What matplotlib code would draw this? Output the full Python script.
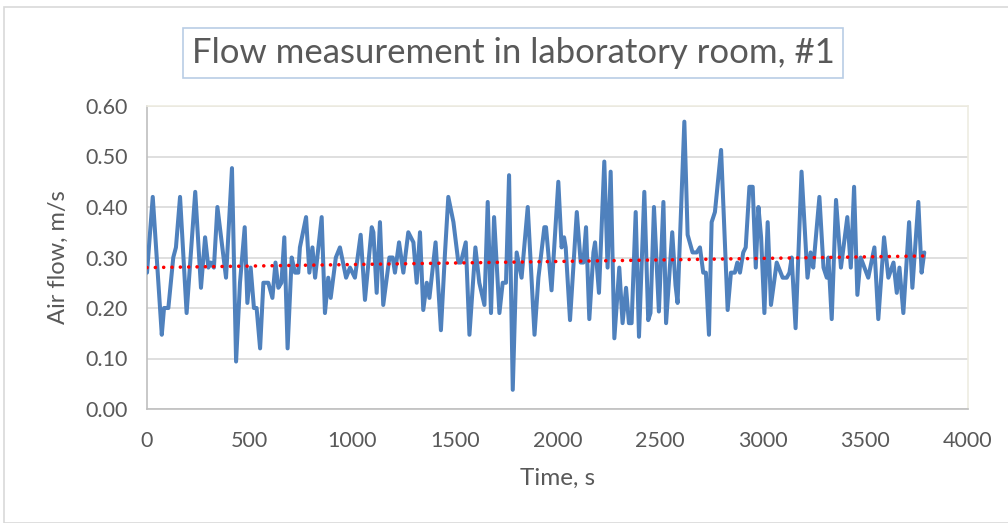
import matplotlib
matplotlib.use("Agg")
import matplotlib.pyplot as plt
from matplotlib.patches import Rectangle
import numpy as np

# ---- data ----
time_s = [0, 28, 72, 83, 104, 128, 141, 161, 193, 235, 263, 283, 299, 310, 326, 343, 385, 414, 434, 453,
          476, 489, 505, 521, 534, 551, 567, 591, 611, 626, 640, 655, 669, 685, 705, 721, 737, 745, 775, 791,
          806, 819, 851, 867, 883, 895, 920, 940, 970, 989, 1013, 1041, 1062, 1095, 1103, 1119, 1135, 1151, 1181, 1197,
          1208, 1228, 1249, 1273, 1298, 1314, 1330, 1346, 1363, 1376, 1406, 1432, 1452, 1468, 1493, 1517, 1529, 1553,
          1571, 1600, 1619, 1644, 1660, 1676, 1691, 1717, 1733, 1749, 1764, 1782, 1801, 1825, 1855, 1888, 1907, 1936,
          1944, 1971, 2004, 2020, 2032, 2040, 2061, 2094, 2113, 2126, 2139, 2155, 2175, 2183, 2202, 2228, 2244, 2259,
          2277, 2301, 2317, 2334, 2348, 2361, 2381, 2397, 2423, 2442, 2453, 2470, 2494, 2516, 2529, 2559, 2575, 2585,
          2618, 2634, 2658, 2678, 2694, 2710, 2723, 2738, 2751, 2767, 2797, 2829, 2845, 2864, 2876, 2889, 2905, 2917,
          2935, 2951, 2966, 2979, 2992, 3008, 3024, 3040, 3068, 3097, 3117, 3130, 3141, 3160, 3189, 3218, 3233, 3246,
          3276, 3296, 3312, 3320, 3336, 3357, 3381, 3412, 3429, 3445, 3461, 3477, 3514, 3544, 3563, 3591, 3612, 3637,
          3653, 3666, 3685, 3713, 3729, 3758, 3774, 3787]
air_flow = [0.27, 0.42, 0.147, 0.20, 0.20, 0.30, 0.32, 0.42, 0.19, 0.43, 0.24, 0.34, 0.28, 0.29, 0.28, 0.40, 0.26, 0.477, 0.094, 0.25,
            0.36, 0.21, 0.28, 0.20, 0.20, 0.12, 0.25, 0.25, 0.22, 0.29, 0.24, 0.25, 0.34, 0.12, 0.30, 0.27, 0.27, 0.32, 0.38, 0.27,
            0.32, 0.26, 0.38, 0.19, 0.26, 0.22, 0.30, 0.32, 0.26, 0.28, 0.26, 0.345, 0.216, 0.36, 0.35, 0.23, 0.37, 0.206, 0.30, 0.30,
            0.27, 0.33, 0.27, 0.35, 0.33, 0.25, 0.35, 0.196, 0.25, 0.22, 0.33, 0.156, 0.31, 0.42, 0.37, 0.29, 0.29, 0.33,
            0.147, 0.32, 0.25, 0.206, 0.41, 0.19, 0.38, 0.19, 0.25, 0.25, 0.463, 0.038, 0.31, 0.26, 0.40, 0.147, 0.26, 0.36,
            0.36, 0.235, 0.45, 0.32, 0.34, 0.32, 0.176, 0.39, 0.29, 0.29, 0.36, 0.178, 0.31, 0.33, 0.23, 0.49, 0.28, 0.47,
            0.14, 0.28, 0.17, 0.24, 0.17, 0.17, 0.39, 0.143, 0.43, 0.176, 0.19, 0.40, 0.193, 0.41, 0.17, 0.35, 0.245, 0.21,
            0.569, 0.345, 0.31, 0.31, 0.32, 0.27, 0.27, 0.147, 0.37, 0.39, 0.513, 0.196, 0.27, 0.27, 0.29, 0.27, 0.31, 0.32,
            0.44, 0.44, 0.28, 0.40, 0.34, 0.19, 0.37, 0.206, 0.29, 0.26, 0.26, 0.27, 0.30, 0.16, 0.47, 0.26, 0.31, 0.28,
            0.42, 0.28, 0.26, 0.30, 0.178, 0.414, 0.28, 0.38, 0.28, 0.44, 0.226, 0.30, 0.26, 0.32, 0.178, 0.34, 0.26, 0.29,
            0.23, 0.28, 0.19, 0.37, 0.24, 0.41, 0.27, 0.31]
trend_start = 0.280   # trendline value at first sample
trend_end = 0.303     # trendline value at last sample
x_ticks = [0, 500, 1000, 1500, 2000, 2500, 3000, 3500, 4000]
y_ticks = [0.0, 0.1, 0.2, 0.3, 0.4, 0.5, 0.6]

title = "Flow measurement in laboratory room, #1"
x_label = "Time, s"
y_label = "Air flow, m/s"

# ---- figure ----
W, H = 1008, 523
fig = plt.figure(figsize=(W / 100, H / 100), dpi=100)
plt.rcParams['font.family'] = ['Lato', 'DejaVu Sans']
text_col = '#595959'

# outer chart border
fig.patches.append(Rectangle((4 / W, 0), 1.2, 1 - 7 / H, transform=fig.transFigure,
                             fill=False, edgecolor='#D9D9D9', linewidth=1.2))

ax = fig.add_axes([147 / W, 1 - 409 / H, (968 - 147) / W, (409 - 106) / H])
ax.set_xlim(0, 4000)
ax.set_ylim(0, 0.6)
ax.set_xticks(x_ticks)
ax.set_xticklabels([str(v) for v in x_ticks])
ax.set_yticks(y_ticks)
ax.set_yticklabels([f"{v:.2f}" for v in y_ticks])
ax.tick_params(length=0, labelsize=15.5, labelcolor=text_col)
ax.tick_params(axis='y', pad=14)
ax.tick_params(axis='x', pad=16)
ax.yaxis.grid(True, color='#D9D9D9', linewidth=1.2)
ax.set_axisbelow(True)
for s in ['left', 'bottom']:
    ax.spines[s].set_color('#BFBFBF')
    ax.spines[s].set_linewidth(1.2)
for s in ['top', 'right']:
    ax.spines[s].set_color('#EEECE1')
    ax.spines[s].set_linewidth(1.2)

ax.plot(time_s, air_flow, color='#4F81BD', linewidth=2.9, solid_joinstyle='round',
        solid_capstyle='round', zorder=3)

t_trend = np.array([time_s[0], time_s[-1]])
ax.plot(t_trend, [trend_start, trend_end], color='#FF0000', linewidth=2.6,
        linestyle=(0, (0.01, 2.3)), dash_capstyle='round', zorder=4)

ax.set_xlabel(x_label, fontsize=17.5, color=text_col, labelpad=12)
ax.set_ylabel(y_label, fontsize=17, color=text_col, labelpad=12)

fig.text(513 / W, 1 - 53 / H, title, fontsize=25, color=text_col, ha='center', va='center',
         bbox=dict(boxstyle='square,pad=0.25', facecolor='white', edgecolor='#B9CDE5', linewidth=1.2))

fig.savefig('out.png', dpi=100)
